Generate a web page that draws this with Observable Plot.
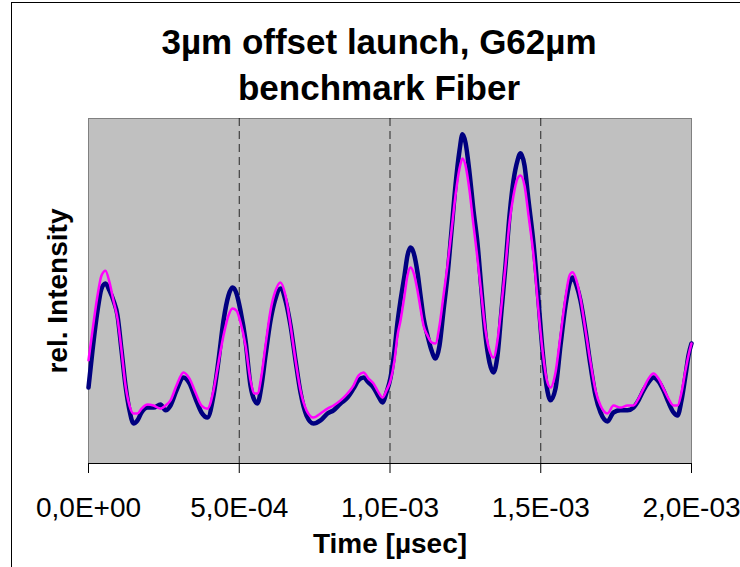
<!DOCTYPE html>
<html>
<head>
<meta charset="utf-8">
<script src="https://cdn.jsdelivr.net/npm/d3@7"></script>
<script src="https://cdn.jsdelivr.net/npm/@observablehq/plot@0.6"></script>
<style>
  html, body { margin: 0; padding: 0; background: #fff; overflow: hidden; }
  #wrap { position: relative; width: 740px; height: 567px; }
  #bl { position: absolute; left: 11px; top: 2px; width: 1px; height: 565px; background: #000; }
  #bt { position: absolute; left: 11px; top: 2px; width: 729px; height: 1px; background: #000; }
  #wrap svg { position: absolute; left: 0; top: 0; }
</style>
</head>
<body>
<div id="wrap"><div id="bl"></div><div id="bt"></div></div>
<script>
// time in units of 1e-5 s (axis runs 0 .. 2.0E-03)
const timeE5 = [0,1.33,2.99,4.31,5.64,6.97,8.29,9.62,10.95,12.27,13.6,14.93,16.25,17.58,19.57,21.56,23.88,25.54,27.2,29.19,31.51,33.5,35.49,37.48,39.47,41.46,43.12,44.78,46.43,47.76,49.09,50.41,52.07,53.73,55.06,56.05,57.38,58.71,60.36,62.02,63.68,65.34,67,68.66,70.31,72.31,74.63,76.95,79.27,81.26,83.58,85.9,87.89,89.55,91.21,92.87,94.53,96.19,97.51,98.84,100.17,101.49,102.49,103.48,104.81,105.8,106.8,107.79,109.12,110.12,111.11,112.44,113.76,115.09,116.42,117.74,119.07,120.4,121.72,123.05,124.05,125.04,126.37,127.69,129.02,130.35,131.67,133,134.33,135.65,136.98,138.31,139.64,140.96,142.29,143.28,144.61,145.94,147.6,149.25,150.58,151.91,153.23,154.89,156.55,158.21,159.54,160.53,161.86,163.18,164.84,166.5,168.16,169.82,172.14,174.13,176.45,178.77,180.76,182.42,184.08,185.74,187.4,189.05,190.71,192.37,194.03,195.36,196.68,198.01,199,200];

// relative intensity (arbitrary units, 0..100 = bottom..top of plot area)
const navySeries = [22.0,32.8,44.3,50.7,52.2,50.1,47.2,42.9,32.8,22.6,15.4,11.6,12.5,14.8,16.2,16.2,17.1,15.4,16.8,21.2,24.9,23.2,18.8,14.8,13.3,19.7,29.9,41.4,48.7,51.0,49.3,44.3,35.7,22.6,18.3,17.4,22.6,31.3,41.4,47.8,50.7,47.2,40.0,29.9,20.6,13.9,11.6,12.5,14.5,15.4,17.4,19.1,21.7,24.1,24.9,23.5,22.0,19.4,17.7,20.6,24.9,32.8,40.9,47.2,54.5,60.3,62.6,61.2,55.4,48.7,42.3,37.1,32.8,30.4,34.2,44.3,54.5,67.5,80.6,90.7,95.4,93.0,84.3,73.3,63.8,50.1,37.1,29.3,26.4,31.3,44.3,57.4,71.9,82.0,87.8,89.9,86.4,76.2,63.8,47.2,32.8,22.6,18.3,21.7,34.2,45.8,52.2,53.9,51.6,47.2,38.6,28.4,19.7,14.8,12.2,14.8,15.4,15.4,16.2,18.3,21.2,23.5,24.9,23.8,21.2,17.7,14.8,13.9,18.3,25.5,31.3,34.8];

const magentaSeries = [29.9,38.6,48.7,54.5,55.9,52.5,47.2,42.0,32.8,22.6,16.8,14.5,14.5,15.9,17.1,16.8,15.9,16.8,18.3,22.6,26.4,24.6,20.6,16.8,15.9,21.2,29.3,37.1,42.9,44.9,44.3,40.9,34.2,24.1,20.3,20.3,25.5,34.2,44.3,50.1,52.5,48.7,40.0,29.9,21.2,15.4,13.3,14.5,15.9,16.8,18.3,20.3,22.6,25.5,26.4,24.6,23.2,20.6,19.1,21.2,24.1,29.9,37.1,41.4,48.7,54.5,56.8,55.4,50.1,44.9,40.0,37.1,35.1,34.8,40.0,48.7,57.4,67.5,77.7,85.5,88.4,86.4,79.1,69.0,59.4,48.7,38.6,32.8,30.7,35.7,45.8,57.4,69.9,77.7,82.6,83.5,80.6,71.9,60.3,44.3,32.8,24.6,22.0,26.4,37.1,48.1,54.5,55.4,53.0,47.8,38.6,29.3,21.2,16.8,14.5,16.8,16.2,16.8,16.8,18.8,21.7,24.6,26.1,24.6,21.7,18.8,16.8,16.8,20.6,27.0,31.3,34.8];

const tickValues = [0, 5e-4, 1e-3, 1.5e-3, 2e-3];
const tickLabels = ["0,0E+00", "5,0E-04", "1,0E-03", "1,5E-03", "2,0E-03"];
const gridValues = [5e-4, 1e-3, 1.5e-3];

const titleLine1 = "3µm offset launch, G62µm";
const titleLine2 = "benchmark Fiber";
const xTitle = "Time [µsec]";
const yTitle = "rel. Intensity";

const rows = timeE5.map((t, i) => ({t: t * 1e-5, navy: navySeries[i], magenta: magentaSeries[i]}));

const font = "'Liberation Sans', Arial, Helvetica, sans-serif";

const chart = Plot.plot({
  width: 740,
  height: 567,
  marginLeft: 88,
  marginRight: 49,
  marginTop: 118,
  marginBottom: 104,
  style: {fontFamily: font, background: "transparent", overflow: "visible", color: "#000"},
  x: {domain: [0, 2e-3]},
  y: {domain: [0, 100], axis: null},
  marks: [
    Plot.frame({fill: "#C0C0C0", stroke: "#808080"}),
    Plot.ruleX(gridValues, {stroke: "#000", strokeWidth: 1, strokeDasharray: "8,5", strokeOpacity: 0.8}),
    Plot.line(rows, {x: "t", y: "navy", stroke: "#000080", strokeWidth: 4.5, curve: "monotone-x"}),
    Plot.line(rows, {x: "t", y: "magenta", stroke: "#FF00FF", strokeWidth: 2.5, curve: "monotone-x"}),
    Plot.ruleY([0], {stroke: "#000", strokeWidth: 1}),
    Plot.axisX({
      ticks: tickValues,
      tickFormat: (d, i) => tickLabels[i],
      tickSize: 10,
      tickPadding: 24,
      fontSize: 28,
      label: null
    }),
    Plot.text([titleLine1], {frameAnchor: "top", text: d => d, fontSize: 35, fontWeight: "bold", textAnchor: "middle", lineAnchor: "bottom", dy: -65, dx: -11, fill: "#000"}),
    Plot.text([titleLine2], {frameAnchor: "top", text: d => d, fontSize: 35, fontWeight: "bold", textAnchor: "middle", lineAnchor: "bottom", dy: -19, dx: -11, fill: "#000"}),
    Plot.text([xTitle], {frameAnchor: "bottom", text: d => d, fontSize: 28, fontWeight: "bold", textAnchor: "middle", lineAnchor: "bottom", dy: 89, fill: "#000"}),
    Plot.text([yTitle], {frameAnchor: "left", text: d => d, fontSize: 28, fontWeight: "bold", textAnchor: "middle", lineAnchor: "bottom", rotate: -90, dx: -22, fill: "#000"})
  ]
});
document.getElementById("wrap").appendChild(chart);
</script>
</body>
</html>
